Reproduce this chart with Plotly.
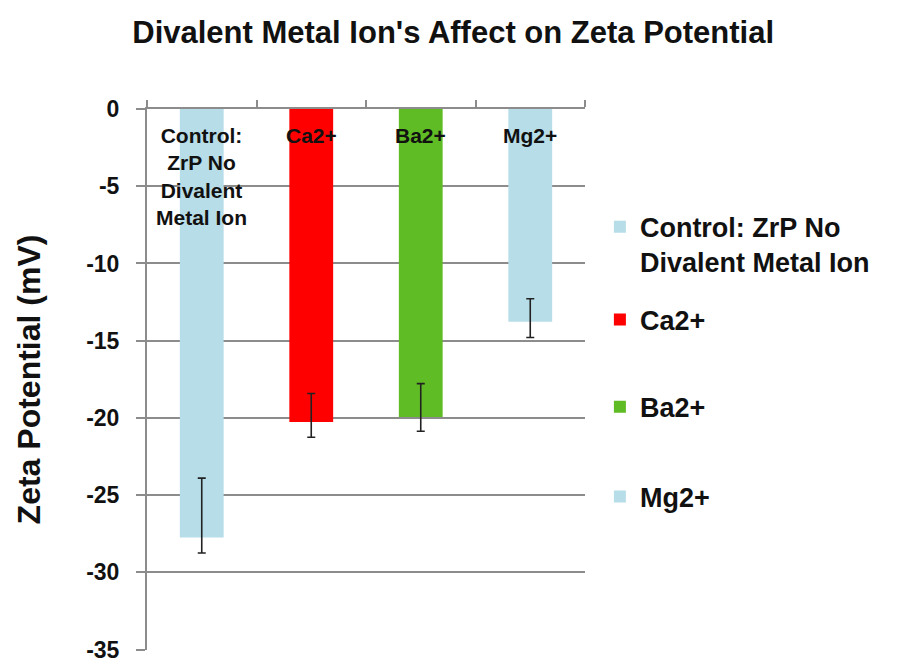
import plotly.graph_objects as go

# values
categories = ['Control: ZrP No Divalent Metal Ion', 'Ca2+', 'Ba2+', 'Mg2+']
bar_labels = ['Control:<br>ZrP No<br>Divalent<br>Metal Ion', 'Ca2+', 'Ba2+', 'Mg2+']
legend_names = ['Control: ZrP No<br>Divalent Metal Ion', 'Ca2+', 'Ba2+', 'Mg2+']
zeta = [-27.75, -20.27, -19.95, -13.77]
err_plus = [3.85, 1.85, 2.17, 1.48]
err_minus = [1.0, 0.98, 0.92, 1.03]
colors = ['#B7DEE8', '#FF0000', '#60BC24', '#B7DEE8']
tick_vals = [0, -5, -10, -15, -20, -25, -30, -35]
tick_text = ['0', '-5', '-10', '-15', '-20', '-25', '-30', '-35']

FONT = 'Liberation Sans, Arial, sans-serif'
INK = '#111111'
AXIS = '#8c8c8c'

# one legend per entry so the uneven spacing of the original can be kept
legend_ids = ['legend', 'legend2', 'legend3', 'legend4']
legend_y = [0.749, 0.610, 0.449, 0.283]

fig = go.Figure()
for i, cat in enumerate(categories):
    fig.add_trace(go.Bar(
        x=[cat], y=[zeta[i]], name='<b>%s</b>' % legend_names[i],
        marker=dict(color=colors[i], line=dict(width=0)),
        width=0.4, legend=legend_ids[i],
        error_y=dict(type='data', symmetric=False,
                     array=[err_plus[i]], arrayminus=[err_minus[i]],
                     color='#222222', thickness=1.6, width=4),
    ))
    fig.add_annotation(
        x=cat, y=0, text='<b>%s</b>' % bar_labels[i], showarrow=False,
        yanchor='top', yshift=-13, align='center',
        font=dict(family=FONT, size=21, color=INK))

legend_style = dict(x=1.034, xanchor='left', yanchor='middle', valign='top',
                    font=dict(family=FONT, size=27, color=INK),
                    bgcolor='rgba(0,0,0,0)')

fig.update_layout(
    width=910, height=663,
    paper_bgcolor='white', plot_bgcolor='white',
    margin=dict(l=147, r=325, t=109, b=13),
    barmode='overlay',
    font=dict(family=FONT, color=INK),
    title=dict(text="<b>Divalent Metal Ion's Affect on Zeta Potential</b>",
               x=0.498, xanchor='center', y=0.952, yanchor='middle',
               font=dict(family=FONT, size=31, color=INK)),
    showlegend=True,
    legend=dict(y=legend_y[0], **legend_style),
    legend2=dict(y=legend_y[1], **legend_style),
    legend3=dict(y=legend_y[2], **legend_style),
    legend4=dict(y=legend_y[3], **legend_style),
)

fig.update_xaxes(
    side='top', showticklabels=False, ticks='outside', tickson='boundaries',
    ticklen=7, tickcolor=AXIS, tickwidth=2, showline=True, linecolor=AXIS,
    linewidth=2, showgrid=False, categoryorder='array', categoryarray=categories,
    automargin=False,
)
fig.update_yaxes(
    range=[-35.03, 0], tickmode='array', tickvals=tick_vals,
    ticktext=['<b>%s</b>' % t for t in tick_text],
    ticks='outside', ticklen=9, tickwidth=2, ticklabeloverflow='allow',
    tickcolor=AXIS, showline=True, linecolor=AXIS, linewidth=2,
    showgrid=True, gridcolor=AXIS, gridwidth=2, zeroline=False,
    tickfont=dict(family=FONT, size=23, color=INK),
    ticklabelstandoff=12, automargin=False,
    title=dict(text='<b>Zeta Potential (mV)</b>', standoff=36,
               font=dict(family=FONT, size=32, color=INK)),
)

fig.write_html("out.html", config={'displayModeBar': False},
               post_script="document.body.style.margin='0px';")
